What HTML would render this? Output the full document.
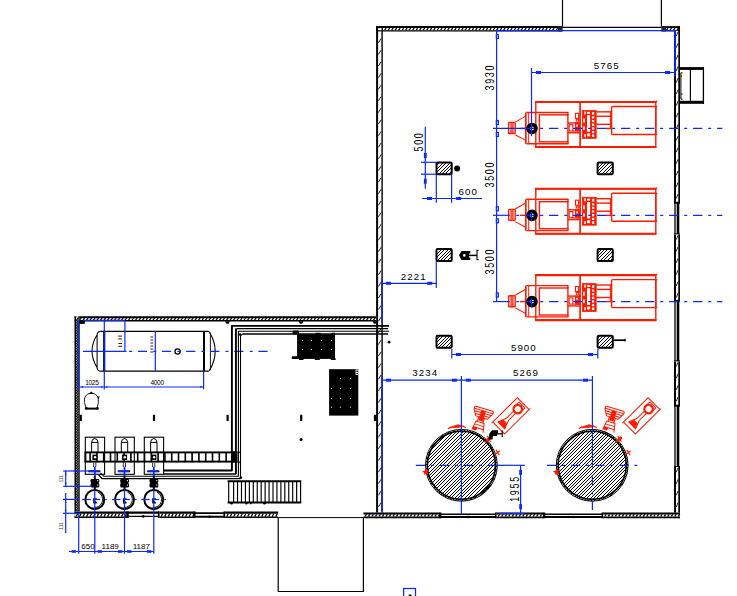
<!DOCTYPE html>
<html><head><meta charset="utf-8"><title>plan</title>
<style>html,body{margin:0;padding:0;background:#fff}svg{display:block}text{font-family:"Liberation Sans",sans-serif}</style>
</head><body>
<svg width="737" height="596" viewBox="0 0 737 596">
<rect width="737" height="596" fill="#fff"/>
<line x1="562.50" y1="0.00" x2="562.50" y2="27.00" stroke="#000" stroke-width="1.2" />
<line x1="661.40" y1="0.00" x2="661.40" y2="27.00" stroke="#000" stroke-width="1.2" />
<line x1="679.00" y1="68.50" x2="704.00" y2="68.50" stroke="#000" stroke-width="2.8" />
<line x1="679.00" y1="102.30" x2="704.00" y2="102.30" stroke="#000" stroke-width="3.0" />
<line x1="703.40" y1="67.10" x2="703.40" y2="103.80" stroke="#000" stroke-width="1.3" />
<line x1="690.40" y1="68.00" x2="690.40" y2="103.00" stroke="#000" stroke-width="1.2" />
<path d="M682.4 72.8H680.9V99.2H682.4 M680.9 76H682 M680.9 94H682.6" stroke="#000" stroke-width="1.0" fill="none"/>
<rect x="376.10" y="26.10" width="186.40" height="5.30" fill="#fff" stroke="none"/>
<line x1="376.10" y1="27.10" x2="562.50" y2="27.10" stroke="#000" stroke-width="2.0" />
<line x1="376.10" y1="30.80" x2="562.50" y2="30.80" stroke="#000" stroke-width="1.2" />
<path d="M377.60 30.20L379.20 28.10M381.10 30.20L382.70 28.10M384.60 30.20L386.20 28.10M388.10 30.20L389.70 28.10M391.60 30.20L393.20 28.10M395.10 30.20L396.70 28.10M398.60 30.20L400.20 28.10M402.10 30.20L403.70 28.10M405.60 30.20L407.20 28.10M409.10 30.20L410.70 28.10M412.60 30.20L414.20 28.10M416.10 30.20L417.70 28.10M419.60 30.20L421.20 28.10M423.10 30.20L424.70 28.10M426.60 30.20L428.20 28.10M430.10 30.20L431.70 28.10M433.60 30.20L435.20 28.10M437.10 30.20L438.70 28.10M440.60 30.20L442.20 28.10M444.10 30.20L445.70 28.10M447.60 30.20L449.20 28.10M451.10 30.20L452.70 28.10M454.60 30.20L456.20 28.10M458.10 30.20L459.70 28.10M461.60 30.20L463.20 28.10M465.10 30.20L466.70 28.10M468.60 30.20L470.20 28.10M472.10 30.20L473.70 28.10M475.60 30.20L477.20 28.10M479.10 30.20L480.70 28.10M482.60 30.20L484.20 28.10M486.10 30.20L487.70 28.10M489.60 30.20L491.20 28.10M493.10 30.20L494.70 28.10M496.60 30.20L498.20 28.10M500.10 30.20L501.70 28.10M503.60 30.20L505.20 28.10M507.10 30.20L508.70 28.10M510.60 30.20L512.20 28.10M514.10 30.20L515.70 28.10M517.60 30.20L519.20 28.10M521.10 30.20L522.70 28.10M524.60 30.20L526.20 28.10M528.10 30.20L529.70 28.10M531.60 30.20L533.20 28.10M535.10 30.20L536.70 28.10M538.60 30.20L540.20 28.10M542.10 30.20L543.70 28.10M545.60 30.20L547.20 28.10M549.10 30.20L550.70 28.10M552.60 30.20L554.20 28.10M556.10 30.20L557.70 28.10M559.60 30.20L561.20 28.10" stroke="#000" stroke-width="1.25" fill="none"/>
<line x1="562.50" y1="27.40" x2="661.40" y2="27.40" stroke="#000" stroke-width="1.3" />
<rect x="661.40" y="26.10" width="18.60" height="5.30" fill="#fff" stroke="none"/>
<line x1="661.40" y1="27.10" x2="680.00" y2="27.10" stroke="#000" stroke-width="2.0" />
<line x1="661.40" y1="30.80" x2="680.00" y2="30.80" stroke="#000" stroke-width="1.2" />
<path d="M662.90 30.20L664.50 28.10M666.40 30.20L668.00 28.10M669.90 30.20L671.50 28.10M673.40 30.20L675.00 28.10M676.90 30.20L678.50 28.10" stroke="#000" stroke-width="1.25" fill="none"/>
<rect x="558.00" y="26.10" width="4.50" height="5.30" stroke="#000" stroke-width="0" fill="#222" />
<rect x="661.40" y="26.10" width="4.60" height="5.30" stroke="#000" stroke-width="0" fill="#222" />
<rect x="376.10" y="26.10" width="6.70" height="492.20" fill="#fff" stroke="none"/>
<line x1="377.10" y1="26.10" x2="377.10" y2="518.30" stroke="#000" stroke-width="2.0" />
<line x1="382.10" y1="26.10" x2="382.10" y2="518.30" stroke="#000" stroke-width="1.4" />
<path d="M378.40 31.30L381.10 26.90M378.40 42.90L381.10 38.50M378.40 54.50L381.10 50.10M378.40 66.10L381.10 61.70M378.40 77.70L381.10 73.30M378.40 89.30L381.10 84.90M378.40 100.90L381.10 96.50M378.40 112.50L381.10 108.10M378.40 124.10L381.10 119.70M378.40 135.70L381.10 131.30M378.40 147.30L381.10 142.90M378.40 158.90L381.10 154.50M378.40 170.50L381.10 166.10M378.40 182.10L381.10 177.70M378.40 193.70L381.10 189.30M378.40 205.30L381.10 200.90M378.40 216.90L381.10 212.50M378.40 228.50L381.10 224.10M378.40 240.10L381.10 235.70M378.40 251.70L381.10 247.30M378.40 263.30L381.10 258.90M378.40 274.90L381.10 270.50M378.40 286.50L381.10 282.10M378.40 298.10L381.10 293.70M378.40 309.70L381.10 305.30M378.40 321.30L381.10 316.90M378.40 332.90L381.10 328.50M378.40 344.50L381.10 340.10M378.40 356.10L381.10 351.70M378.40 367.70L381.10 363.30M378.40 379.30L381.10 374.90M378.40 390.90L381.10 386.50M378.40 402.50L381.10 398.10M378.40 414.10L381.10 409.70M378.40 425.70L381.10 421.30M378.40 437.30L381.10 432.90M378.40 448.90L381.10 444.50M378.40 460.50L381.10 456.10M378.40 472.10L381.10 467.70M378.40 483.70L381.10 479.30M378.40 495.30L381.10 490.90M378.40 506.90L381.10 502.50" stroke="#000" stroke-width="0.85" fill="none"/>
<rect x="674.00" y="30.90" width="6.00" height="171.80" fill="#fff" stroke="none"/>
<line x1="675.00" y1="30.90" x2="675.00" y2="202.70" stroke="#000" stroke-width="2.0" />
<line x1="679.15" y1="30.90" x2="679.15" y2="202.70" stroke="#000" stroke-width="1.7" />
<path d="M676.30 36.10L678.00 31.70M676.30 47.70L678.00 43.30M676.30 59.30L678.00 54.90M676.30 70.90L678.00 66.50M676.30 82.50L678.00 78.10M676.30 94.10L678.00 89.70M676.30 105.70L678.00 101.30M676.30 117.30L678.00 112.90M676.30 128.90L678.00 124.50M676.30 140.50L678.00 136.10M676.30 152.10L678.00 147.70M676.30 163.70L678.00 159.30M676.30 175.30L678.00 170.90M676.30 186.90L678.00 182.50M676.30 198.50L678.00 194.10" stroke="#000" stroke-width="0.85" fill="none"/>
<line x1="679.05" y1="26.10" x2="679.05" y2="31.40" stroke="#000" stroke-width="1.9" />
<rect x="674.00" y="202.70" width="6.00" height="31.70" fill="#fff" stroke="none"/>
<line x1="675.00" y1="202.70" x2="675.00" y2="234.40" stroke="#000" stroke-width="1.3" />
<line x1="678.00" y1="202.70" x2="678.00" y2="234.40" stroke="#000" stroke-width="2.6" />
<line x1="674.00" y1="202.70" x2="680.00" y2="202.70" stroke="#000" stroke-width="2.0" />
<line x1="674.00" y1="234.40" x2="680.00" y2="234.40" stroke="#000" stroke-width="2.0" />
<rect x="674.00" y="234.40" width="6.00" height="66.40" fill="#fff" stroke="none"/>
<line x1="675.00" y1="234.40" x2="675.00" y2="300.80" stroke="#000" stroke-width="2.0" />
<line x1="679.15" y1="234.40" x2="679.15" y2="300.80" stroke="#000" stroke-width="1.7" />
<path d="M676.30 239.60L678.00 235.20M676.30 251.20L678.00 246.80M676.30 262.80L678.00 258.40M676.30 274.40L678.00 270.00M676.30 286.00L678.00 281.60M676.30 297.60L678.00 293.20" stroke="#000" stroke-width="0.85" fill="none"/>
<rect x="674.00" y="300.80" width="6.00" height="60.60" fill="#fff" stroke="none"/>
<line x1="675.00" y1="300.80" x2="675.00" y2="361.40" stroke="#000" stroke-width="1.3" />
<line x1="678.00" y1="300.80" x2="678.00" y2="361.40" stroke="#000" stroke-width="2.6" />
<line x1="674.00" y1="300.80" x2="680.00" y2="300.80" stroke="#000" stroke-width="2.0" />
<line x1="674.00" y1="361.40" x2="680.00" y2="361.40" stroke="#000" stroke-width="2.0" />
<rect x="674.00" y="361.40" width="6.00" height="44.30" fill="#fff" stroke="none"/>
<line x1="675.00" y1="361.40" x2="675.00" y2="405.70" stroke="#000" stroke-width="2.0" />
<line x1="679.15" y1="361.40" x2="679.15" y2="405.70" stroke="#000" stroke-width="1.7" />
<path d="M676.30 366.60L678.00 362.20M676.30 378.20L678.00 373.80M676.30 389.80L678.00 385.40M676.30 401.40L678.00 397.00" stroke="#000" stroke-width="0.85" fill="none"/>
<rect x="674.00" y="405.70" width="6.00" height="61.30" fill="#fff" stroke="none"/>
<line x1="675.00" y1="405.70" x2="675.00" y2="467.00" stroke="#000" stroke-width="1.3" />
<line x1="678.00" y1="405.70" x2="678.00" y2="467.00" stroke="#000" stroke-width="2.6" />
<line x1="674.00" y1="405.70" x2="680.00" y2="405.70" stroke="#000" stroke-width="2.0" />
<line x1="674.00" y1="467.00" x2="680.00" y2="467.00" stroke="#000" stroke-width="2.0" />
<rect x="674.00" y="467.00" width="6.00" height="51.30" fill="#fff" stroke="none"/>
<line x1="675.00" y1="467.00" x2="675.00" y2="518.30" stroke="#000" stroke-width="2.0" />
<line x1="679.15" y1="467.00" x2="679.15" y2="518.30" stroke="#000" stroke-width="1.7" />
<path d="M676.30 472.20L678.00 467.80M676.30 483.80L678.00 479.40M676.30 495.40L678.00 491.00M676.30 507.00L678.00 502.60" stroke="#000" stroke-width="0.85" fill="none"/>
<rect x="363.40" y="512.50" width="76.30" height="5.80" fill="#fff" stroke="none"/>
<line x1="363.40" y1="513.45" x2="439.70" y2="513.45" stroke="#000" stroke-width="1.9" />
<line x1="363.40" y1="517.35" x2="439.70" y2="517.35" stroke="#000" stroke-width="1.9" />
<path d="M364.90 516.40L366.50 514.40M368.40 516.40L370.00 514.40M371.90 516.40L373.50 514.40M375.40 516.40L377.00 514.40M378.90 516.40L380.50 514.40M382.40 516.40L384.00 514.40M385.90 516.40L387.50 514.40M389.40 516.40L391.00 514.40M392.90 516.40L394.50 514.40M396.40 516.40L398.00 514.40M399.90 516.40L401.50 514.40M403.40 516.40L405.00 514.40M406.90 516.40L408.50 514.40M410.40 516.40L412.00 514.40M413.90 516.40L415.50 514.40M417.40 516.40L419.00 514.40M420.90 516.40L422.50 514.40M424.40 516.40L426.00 514.40M427.90 516.40L429.50 514.40M431.40 516.40L433.00 514.40M434.90 516.40L436.50 514.40M438.40 516.40L440.00 514.40" stroke="#000" stroke-width="1.25" fill="none"/>
<rect x="439.70" y="512.50" width="56.90" height="5.80" fill="#fff" stroke="none"/>
<line x1="439.70" y1="514.20" x2="496.60" y2="514.20" stroke="#000" stroke-width="1.6" />
<line x1="439.70" y1="517.05" x2="496.60" y2="517.05" stroke="#000" stroke-width="2.0" />
<line x1="440.20" y1="512.50" x2="440.20" y2="518.30" stroke="#000" stroke-width="2.4" />
<line x1="496.10" y1="512.50" x2="496.10" y2="518.30" stroke="#000" stroke-width="2.4" />
<circle cx="468.15" cy="517.05" r="1.30" stroke="#000" stroke-width="0" fill="#000" />
<rect x="496.60" y="512.50" width="47.00" height="5.80" fill="#fff" stroke="none"/>
<line x1="496.60" y1="513.45" x2="543.60" y2="513.45" stroke="#000" stroke-width="1.9" />
<line x1="496.60" y1="517.35" x2="543.60" y2="517.35" stroke="#000" stroke-width="1.9" />
<path d="M498.10 516.40L499.70 514.40M501.60 516.40L503.20 514.40M505.10 516.40L506.70 514.40M508.60 516.40L510.20 514.40M512.10 516.40L513.70 514.40M515.60 516.40L517.20 514.40M519.10 516.40L520.70 514.40M522.60 516.40L524.20 514.40M526.10 516.40L527.70 514.40M529.60 516.40L531.20 514.40M533.10 516.40L534.70 514.40M536.60 516.40L538.20 514.40M540.10 516.40L541.70 514.40" stroke="#000" stroke-width="1.25" fill="none"/>
<rect x="543.60" y="512.50" width="59.60" height="5.80" fill="#fff" stroke="none"/>
<line x1="543.60" y1="514.20" x2="603.20" y2="514.20" stroke="#000" stroke-width="1.6" />
<line x1="543.60" y1="517.05" x2="603.20" y2="517.05" stroke="#000" stroke-width="2.0" />
<line x1="544.10" y1="512.50" x2="544.10" y2="518.30" stroke="#000" stroke-width="2.4" />
<line x1="602.70" y1="512.50" x2="602.70" y2="518.30" stroke="#000" stroke-width="2.4" />
<circle cx="573.40" cy="517.05" r="1.30" stroke="#000" stroke-width="0" fill="#000" />
<rect x="603.20" y="512.50" width="76.80" height="5.80" fill="#fff" stroke="none"/>
<line x1="603.20" y1="513.45" x2="680.00" y2="513.45" stroke="#000" stroke-width="1.9" />
<line x1="603.20" y1="517.35" x2="680.00" y2="517.35" stroke="#000" stroke-width="1.9" />
<path d="M604.70 516.40L606.30 514.40M608.20 516.40L609.80 514.40M611.70 516.40L613.30 514.40M615.20 516.40L616.80 514.40M618.70 516.40L620.30 514.40M622.20 516.40L623.80 514.40M625.70 516.40L627.30 514.40M629.20 516.40L630.80 514.40M632.70 516.40L634.30 514.40M636.20 516.40L637.80 514.40M639.70 516.40L641.30 514.40M643.20 516.40L644.80 514.40M646.70 516.40L648.30 514.40M650.20 516.40L651.80 514.40M653.70 516.40L655.30 514.40M657.20 516.40L658.80 514.40M660.70 516.40L662.30 514.40M664.20 516.40L665.80 514.40M667.70 516.40L669.30 514.40M671.20 516.40L672.80 514.40M674.70 516.40L676.30 514.40M678.20 516.40L679.80 514.40" stroke="#000" stroke-width="1.25" fill="none"/>
<rect x="376.10" y="26.10" width="6.70" height="5.30" stroke="#000" stroke-width="0" fill="#000" />
<rect x="378.1" y="28.1" width="3.50" height="2.10" fill="#fff"/>
<rect x="74.50" y="316.20" width="301.60" height="5.20" fill="#fff" stroke="none"/>
<line x1="74.50" y1="317.20" x2="376.10" y2="317.20" stroke="#000" stroke-width="2.0" />
<line x1="74.50" y1="320.75" x2="376.10" y2="320.75" stroke="#000" stroke-width="1.3" />
<path d="M76.00 320.10L77.60 318.20M79.50 320.10L81.10 318.20M83.00 320.10L84.60 318.20M86.50 320.10L88.10 318.20M90.00 320.10L91.60 318.20M93.50 320.10L95.10 318.20M97.00 320.10L98.60 318.20M100.50 320.10L102.10 318.20M104.00 320.10L105.60 318.20M107.50 320.10L109.10 318.20M111.00 320.10L112.60 318.20M114.50 320.10L116.10 318.20M118.00 320.10L119.60 318.20M121.50 320.10L123.10 318.20M125.00 320.10L126.60 318.20M128.50 320.10L130.10 318.20M132.00 320.10L133.60 318.20M135.50 320.10L137.10 318.20M139.00 320.10L140.60 318.20M142.50 320.10L144.10 318.20M146.00 320.10L147.60 318.20M149.50 320.10L151.10 318.20M153.00 320.10L154.60 318.20M156.50 320.10L158.10 318.20M160.00 320.10L161.60 318.20M163.50 320.10L165.10 318.20M167.00 320.10L168.60 318.20M170.50 320.10L172.10 318.20M174.00 320.10L175.60 318.20M177.50 320.10L179.10 318.20M181.00 320.10L182.60 318.20M184.50 320.10L186.10 318.20M188.00 320.10L189.60 318.20M191.50 320.10L193.10 318.20M195.00 320.10L196.60 318.20M198.50 320.10L200.10 318.20M202.00 320.10L203.60 318.20M205.50 320.10L207.10 318.20M209.00 320.10L210.60 318.20M212.50 320.10L214.10 318.20M216.00 320.10L217.60 318.20M219.50 320.10L221.10 318.20M223.00 320.10L224.60 318.20M226.50 320.10L228.10 318.20M230.00 320.10L231.60 318.20M233.50 320.10L235.10 318.20M237.00 320.10L238.60 318.20M240.50 320.10L242.10 318.20M244.00 320.10L245.60 318.20M247.50 320.10L249.10 318.20M251.00 320.10L252.60 318.20M254.50 320.10L256.10 318.20M258.00 320.10L259.60 318.20M261.50 320.10L263.10 318.20M265.00 320.10L266.60 318.20M268.50 320.10L270.10 318.20M272.00 320.10L273.60 318.20M275.50 320.10L277.10 318.20M279.00 320.10L280.60 318.20M282.50 320.10L284.10 318.20M286.00 320.10L287.60 318.20M289.50 320.10L291.10 318.20M293.00 320.10L294.60 318.20M296.50 320.10L298.10 318.20M300.00 320.10L301.60 318.20M303.50 320.10L305.10 318.20M307.00 320.10L308.60 318.20M310.50 320.10L312.10 318.20M314.00 320.10L315.60 318.20M317.50 320.10L319.10 318.20M321.00 320.10L322.60 318.20M324.50 320.10L326.10 318.20M328.00 320.10L329.60 318.20M331.50 320.10L333.10 318.20M335.00 320.10L336.60 318.20M338.50 320.10L340.10 318.20M342.00 320.10L343.60 318.20M345.50 320.10L347.10 318.20M349.00 320.10L350.60 318.20M352.50 320.10L354.10 318.20M356.00 320.10L357.60 318.20M359.50 320.10L361.10 318.20M363.00 320.10L364.60 318.20M366.50 320.10L368.10 318.20M370.00 320.10L371.60 318.20M373.50 320.10L375.10 318.20" stroke="#000" stroke-width="1.25" fill="none"/>
<rect x="74.50" y="316.20" width="5.20" height="201.80" fill="#fff" stroke="none"/>
<line x1="75.35" y1="316.20" x2="75.35" y2="518.00" stroke="#000" stroke-width="1.7" />
<line x1="79.00" y1="316.20" x2="79.00" y2="518.00" stroke="#000" stroke-width="1.4" />
<path d="M76.20 320.80L78.30 317.60M76.20 323.40L78.30 320.20M76.20 326.00L78.30 322.80M76.20 328.60L78.30 325.40M76.20 331.20L78.30 328.00M76.20 333.80L78.30 330.60M76.20 336.40L78.30 333.20M76.20 339.00L78.30 335.80M76.20 341.60L78.30 338.40M76.20 344.20L78.30 341.00M76.20 346.80L78.30 343.60M76.20 349.40L78.30 346.20M76.20 352.00L78.30 348.80M76.20 354.60L78.30 351.40M76.20 357.20L78.30 354.00M76.20 359.80L78.30 356.60M76.20 362.40L78.30 359.20M76.20 365.00L78.30 361.80M76.20 367.60L78.30 364.40M76.20 370.20L78.30 367.00M76.20 372.80L78.30 369.60M76.20 375.40L78.30 372.20M76.20 378.00L78.30 374.80M76.20 380.60L78.30 377.40M76.20 383.20L78.30 380.00M76.20 385.80L78.30 382.60M76.20 388.40L78.30 385.20M76.20 391.00L78.30 387.80M76.20 393.60L78.30 390.40M76.20 396.20L78.30 393.00M76.20 398.80L78.30 395.60M76.20 401.40L78.30 398.20M76.20 404.00L78.30 400.80M76.20 406.60L78.30 403.40M76.20 409.20L78.30 406.00M76.20 411.80L78.30 408.60M76.20 414.40L78.30 411.20M76.20 417.00L78.30 413.80M76.20 419.60L78.30 416.40M76.20 422.20L78.30 419.00M76.20 424.80L78.30 421.60M76.20 427.40L78.30 424.20M76.20 430.00L78.30 426.80M76.20 432.60L78.30 429.40M76.20 435.20L78.30 432.00M76.20 437.80L78.30 434.60M76.20 440.40L78.30 437.20M76.20 443.00L78.30 439.80M76.20 445.60L78.30 442.40M76.20 448.20L78.30 445.00M76.20 450.80L78.30 447.60M76.20 453.40L78.30 450.20M76.20 456.00L78.30 452.80M76.20 458.60L78.30 455.40M76.20 461.20L78.30 458.00M76.20 463.80L78.30 460.60M76.20 466.40L78.30 463.20M76.20 469.00L78.30 465.80M76.20 471.60L78.30 468.40M76.20 474.20L78.30 471.00M76.20 476.80L78.30 473.60M76.20 479.40L78.30 476.20M76.20 482.00L78.30 478.80M76.20 484.60L78.30 481.40M76.20 487.20L78.30 484.00M76.20 489.80L78.30 486.60M76.20 492.40L78.30 489.20M76.20 495.00L78.30 491.80M76.20 497.60L78.30 494.40M76.20 500.20L78.30 497.00M76.20 502.80L78.30 499.60M76.20 505.40L78.30 502.20M76.20 508.00L78.30 504.80M76.20 510.60L78.30 507.40M76.20 513.20L78.30 510.00M76.20 515.80L78.30 512.60" stroke="#000" stroke-width="1.1" fill="none"/>
<rect x="74.50" y="511.40" width="52.50" height="6.60" fill="#fff" stroke="none"/>
<line x1="74.50" y1="512.60" x2="127.00" y2="512.60" stroke="#000" stroke-width="2.4" />
<line x1="74.50" y1="517.30" x2="127.00" y2="517.30" stroke="#000" stroke-width="1.4" />
<path d="M76.00 516.60L77.60 513.80M79.50 516.60L81.10 513.80M83.00 516.60L84.60 513.80M86.50 516.60L88.10 513.80M90.00 516.60L91.60 513.80M93.50 516.60L95.10 513.80M97.00 516.60L98.60 513.80M100.50 516.60L102.10 513.80M104.00 516.60L105.60 513.80M107.50 516.60L109.10 513.80M111.00 516.60L112.60 513.80M114.50 516.60L116.10 513.80M118.00 516.60L119.60 513.80M121.50 516.60L123.10 513.80M125.00 516.60L126.60 513.80" stroke="#000" stroke-width="1.25" fill="none"/>
<rect x="127.00" y="511.40" width="32.60" height="6.60" fill="#fff" stroke="none"/>
<line x1="127.00" y1="512.60" x2="159.60" y2="512.60" stroke="#000" stroke-width="2.4" />
<line x1="127.00" y1="516.40" x2="159.60" y2="516.40" stroke="#000" stroke-width="1.2" />
<line x1="127.50" y1="511.40" x2="127.50" y2="518.00" stroke="#000" stroke-width="2.4" />
<line x1="159.10" y1="511.40" x2="159.10" y2="518.00" stroke="#000" stroke-width="2.4" />
<circle cx="143.30" cy="516.40" r="1.30" stroke="#000" stroke-width="0" fill="#000" />
<rect x="159.60" y="511.40" width="34.30" height="6.60" fill="#fff" stroke="none"/>
<line x1="159.60" y1="512.60" x2="193.90" y2="512.60" stroke="#000" stroke-width="2.4" />
<line x1="159.60" y1="517.30" x2="193.90" y2="517.30" stroke="#000" stroke-width="1.4" />
<path d="M161.10 516.60L162.70 513.80M164.60 516.60L166.20 513.80M168.10 516.60L169.70 513.80M171.60 516.60L173.20 513.80M175.10 516.60L176.70 513.80M178.60 516.60L180.20 513.80M182.10 516.60L183.70 513.80M185.60 516.60L187.20 513.80M189.10 516.60L190.70 513.80M192.60 516.60L194.20 513.80" stroke="#000" stroke-width="1.25" fill="none"/>
<rect x="193.90" y="511.40" width="31.30" height="6.60" fill="#fff" stroke="none"/>
<line x1="193.90" y1="513.10" x2="225.20" y2="513.10" stroke="#000" stroke-width="1.6" />
<line x1="193.90" y1="516.75" x2="225.20" y2="516.75" stroke="#000" stroke-width="2.0" />
<line x1="194.40" y1="511.40" x2="194.40" y2="518.00" stroke="#000" stroke-width="2.4" />
<line x1="224.70" y1="511.40" x2="224.70" y2="518.00" stroke="#000" stroke-width="2.4" />
<circle cx="209.55" cy="516.75" r="1.30" stroke="#000" stroke-width="0" fill="#000" />
<rect x="225.20" y="511.40" width="53.00" height="6.60" fill="#fff" stroke="none"/>
<line x1="225.20" y1="512.60" x2="278.20" y2="512.60" stroke="#000" stroke-width="2.4" />
<line x1="225.20" y1="517.30" x2="278.20" y2="517.30" stroke="#000" stroke-width="1.4" />
<path d="M226.70 516.60L228.30 513.80M230.20 516.60L231.80 513.80M233.70 516.60L235.30 513.80M237.20 516.60L238.80 513.80M240.70 516.60L242.30 513.80M244.20 516.60L245.80 513.80M247.70 516.60L249.30 513.80M251.20 516.60L252.80 513.80M254.70 516.60L256.30 513.80M258.20 516.60L259.80 513.80M261.70 516.60L263.30 513.80M265.20 516.60L266.80 513.80M268.70 516.60L270.30 513.80M272.20 516.60L273.80 513.80M275.70 516.60L277.30 513.80" stroke="#000" stroke-width="1.25" fill="none"/>
<path d="M278.2 517.5V591.5H363.4V517.5" stroke="#000" stroke-width="1.2" fill="none"/>
<line x1="278.20" y1="517.60" x2="363.40" y2="517.60" stroke="#000" stroke-width="1.0" />
<defs><pattern id="ph" width="17" height="17" patternUnits="userSpaceOnUse"><rect width="17" height="17" fill="#fff"/><path d="M0 0h1v1h-1zM1 16h1v1h-1zM2 15h1v1h-1zM3 14h1v1h-1zM4 13h1v1h-1zM5 12h1v1h-1zM6 11h1v1h-1zM7 10h1v1h-1zM8 9h1v1h-1zM9 8h1v1h-1zM10 7h1v1h-1zM11 6h1v1h-1zM12 5h1v1h-1zM13 4h1v1h-1zM14 3h1v1h-1zM15 2h1v1h-1zM16 1h1v1h-1zM0 3h1v1h-1zM1 2h1v1h-1zM2 1h1v1h-1zM3 0h1v1h-1zM4 16h1v1h-1zM5 15h1v1h-1zM6 14h1v1h-1zM7 13h1v1h-1zM8 12h1v1h-1zM9 11h1v1h-1zM10 10h1v1h-1zM11 9h1v1h-1zM12 8h1v1h-1zM13 7h1v1h-1zM14 6h1v1h-1zM15 5h1v1h-1zM16 4h1v1h-1zM0 6h1v1h-1zM1 5h1v1h-1zM2 4h1v1h-1zM3 3h1v1h-1zM4 2h1v1h-1zM5 1h1v1h-1zM6 0h1v1h-1zM7 16h1v1h-1zM8 15h1v1h-1zM9 14h1v1h-1zM10 13h1v1h-1zM11 12h1v1h-1zM12 11h1v1h-1zM13 10h1v1h-1zM14 9h1v1h-1zM15 8h1v1h-1zM16 7h1v1h-1zM0 10h1v1h-1zM1 9h1v1h-1zM2 8h1v1h-1zM3 7h1v1h-1zM4 6h1v1h-1zM5 5h1v1h-1zM6 4h1v1h-1zM7 3h1v1h-1zM8 2h1v1h-1zM9 1h1v1h-1zM10 0h1v1h-1zM11 16h1v1h-1zM12 15h1v1h-1zM13 14h1v1h-1zM14 13h1v1h-1zM15 12h1v1h-1zM16 11h1v1h-1zM0 13h1v1h-1zM1 12h1v1h-1zM2 11h1v1h-1zM3 10h1v1h-1zM4 9h1v1h-1zM5 8h1v1h-1zM6 7h1v1h-1zM7 6h1v1h-1zM8 5h1v1h-1zM9 4h1v1h-1zM10 3h1v1h-1zM11 2h1v1h-1zM12 1h1v1h-1zM13 0h1v1h-1zM14 16h1v1h-1zM15 15h1v1h-1zM16 14h1v1h-1z" fill="#000" shape-rendering="crispEdges"/></pattern></defs>
<rect x="436.50" y="162.40" width="15.20" height="11.80" rx="1.2" fill="url(#ph)" stroke="#000" stroke-width="2"/>
<rect x="436.50" y="249.10" width="15.20" height="12.00" rx="1.2" fill="url(#ph)" stroke="#000" stroke-width="2"/>
<rect x="436.50" y="335.80" width="15.20" height="12.00" rx="1.2" fill="url(#ph)" stroke="#000" stroke-width="2"/>
<rect x="597.60" y="162.40" width="15.20" height="11.80" rx="1.2" fill="url(#ph)" stroke="#000" stroke-width="2"/>
<rect x="597.60" y="249.10" width="15.20" height="12.00" rx="1.2" fill="url(#ph)" stroke="#000" stroke-width="2"/>
<rect x="597.60" y="335.80" width="15.20" height="12.00" rx="1.2" fill="url(#ph)" stroke="#000" stroke-width="2"/>
<circle cx="457.10" cy="168.60" r="3.00" stroke="#000" stroke-width="0" fill="#000" />
<path d="M459 255.3 L461.5 251 H470.3 V253.5 H469 V257.5 H470.3 V260 H461.5 Z" fill="#000"/>
<circle cx="464.30" cy="255.40" r="1.30" stroke="#000" stroke-width="0" fill="#fff" />
<line x1="469.00" y1="255.40" x2="477.00" y2="255.40" stroke="#000" stroke-width="1.5" />
<path d="M478.6 250.4H477V259.6H478.6" stroke="#000" stroke-width="1.1" fill="none"/>
<line x1="613.60" y1="340.20" x2="625.40" y2="340.20" stroke="#000" stroke-width="1.7" />
<line x1="625.00" y1="338.80" x2="625.00" y2="341.60" stroke="#000" stroke-width="1.2" />
<circle cx="389.10" cy="342.20" r="1.40" stroke="#000" stroke-width="0" fill="#000" />
<defs><g id="mach" fill="none" stroke="#ff1a00" stroke-width="1.4">
<rect x="535.80" y="102.00" width="120.00" height="45.00"/>
<line x1="535.10" y1="102.00" x2="656.40" y2="102.00" stroke-width="2.1"/>
<line x1="535.10" y1="147.00" x2="656.40" y2="147.00" stroke-width="2.1"/>
<line x1="580.10" y1="101.60" x2="580.10" y2="147.00" stroke-width="1.7"/>
<line x1="655.80" y1="101.30" x2="657.20" y2="101.30"/>
<line x1="655.80" y1="106.60" x2="657.20" y2="106.60"/>
<line x1="655.80" y1="134.40" x2="657.20" y2="134.40"/>
<rect x="611.6" y="106.5" width="44.2" height="28" rx="1"/>
<rect x="508.6" y="122.6" width="6.6" height="11" rx="0.8"/>
<rect x="510.90" y="122.60" width="2.20" height="11.00" stroke-width="0.8" fill="#ff6a50"/>
<path d="M515.2 122.2 L525.6 116.2 M515.2 134.8 L525.6 140.4" stroke-width="1.05"/>
<line x1="525.80" y1="112.50" x2="525.80" y2="143.80" stroke-width="1.7"/>
<line x1="528.70" y1="112.50" x2="528.70" y2="143.80" stroke-width="1.0"/>
<line x1="520.00" y1="128.50" x2="527.00" y2="128.50"/>
<line x1="526.30" y1="112.50" x2="568.50" y2="112.50"/>
<line x1="526.30" y1="143.80" x2="568.50" y2="143.80"/>
<rect x="539.40" y="114.90" width="28.50" height="27.00"/>
<line x1="567.90" y1="112.50" x2="567.90" y2="115.50"/>
<line x1="567.90" y1="141.50" x2="567.90" y2="144.00"/>
<line x1="567.90" y1="123.00" x2="580.00" y2="123.00"/>
<line x1="567.90" y1="132.80" x2="580.00" y2="132.80"/>
<line x1="572.80" y1="131.10" x2="580.00" y2="131.10" stroke-width="1.0"/>
<rect x="569.20" y="124.80" width="3.60" height="6.20" stroke-width="1.1"/>
<rect x="575.50" y="113.40" width="3.10" height="5.00" stroke-width="1.1"/>
<rect x="576.20" y="119.40" width="2.40" height="1.80" stroke-width="1.0"/>
<rect x="575.50" y="123.00" width="3.90" height="8.00" stroke-width="1.0" fill="#ff1a00"/>
<rect x="576.3" y="124.6" width="1.6" height="2" fill="#fff" stroke="none"/>
<rect x="582.40" y="110.50" width="13.80" height="27.90" stroke-width="0.8" fill="#ff1a00"/>
<rect x="587" y="115.2" width="3.10" height="16.60" fill="#fff" stroke="none"/>
<rect x="587" y="111.9" width="3.10" height="1.90" fill="#fff" stroke="none"/>
<rect x="587" y="133.5" width="3.10" height="2.90" fill="#fff" stroke="none"/>
<rect x="584.3" y="111.5" width="1.50" height="3.00" fill="#fff" stroke="none"/>
<rect x="583.2" y="118.6" width="1.60" height="4.00" fill="#fff" stroke="none"/>
<rect x="583.2" y="126.4" width="1.60" height="3.60" fill="#fff" stroke="none"/>
<rect x="584.3" y="134.2" width="1.50" height="3.00" fill="#fff" stroke="none"/>
<rect x="592.1" y="112" width="2.1" height="2.80" fill="#fff" stroke="none"/>
<rect x="592.1" y="116.4" width="2.1" height="2.20" fill="#fff" stroke="none"/>
<rect x="592.1" y="120" width="2.1" height="2.20" fill="#fff" stroke="none"/>
<rect x="592.1" y="123.6" width="2.1" height="2.20" fill="#fff" stroke="none"/>
<rect x="592.1" y="127.2" width="2.1" height="2.40" fill="#fff" stroke="none"/>
<rect x="592.1" y="131" width="2.1" height="2.20" fill="#fff" stroke="none"/>
<rect x="592.1" y="134.4" width="2.1" height="2.60" fill="#fff" stroke="none"/>
<line x1="596.20" y1="111.90" x2="611.60" y2="111.90"/>
<line x1="596.20" y1="116.30" x2="611.60" y2="116.30"/>
<line x1="596.20" y1="124.40" x2="611.60" y2="124.40"/>
<line x1="606.00" y1="128.50" x2="611.60" y2="128.50"/>
<line x1="610.40" y1="111.90" x2="610.40" y2="128.50" stroke-width="1.0"/>
</g></defs>
<use href="#mach" transform="translate(0,-0.05)"/>
<use href="#mach" transform="translate(0,86.80)"/>
<use href="#mach" transform="translate(0,173.10)"/>
<circle cx="461.40" cy="465.30" r="35.90" stroke="#000" stroke-width="1.0" fill="url(#ph)" />
<circle cx="461.40" cy="465.30" r="34.10" stroke="#000" stroke-width="1.7" fill="none" />
<g transform="translate(461.40,465.30)" stroke="#ff1a00" fill="none" stroke-width="1.1">
<g transform="translate(16.1,-34.3) rotate(16.8)">
<path d="M-5.8 0L-4.3 -9H4.3L5.8 0 M-5.3 -3H5.3 M-4.8 -6H4.8 M-3 -9V-14H3V-9 M-6 -14H6 M-7.5 -16.3H7.5 M-9 -18.6H9 M-10 -20.9H10 M-9.6 -23.2H9.6 M-10 -20.9L-9.6 -23.2 M10 -20.9L9.6 -23.2 M-6 -14L-10 -20.9 M6 -14L10 -20.9" stroke-width="1.0"/>
<rect x="-2.4" y="-21" width="4.8" height="10.5" fill="#ff1a00" stroke="none"/>
<path d="M-5.8 0L-5.2 -3.2H-1L-1.4 0Z" fill="#ff1a00" stroke="none"/>
</g>
<g transform="translate(49.55,-49.45) rotate(-44.8)">
<rect x="-17.3" y="-8.4" width="34.6" height="16.8" stroke-width="1.0"/>
<path d="M-17.3 -8.4l-1.6 0 M17.3 8.4l1.6 0" stroke-width="1.0"/>
<path d="M-13.5 -4.8V4.8L-5 1.5H5V-1.5H-5Z" stroke-width="1.0"/>
<path d="M-13.8 -4.8V4.8L-8 2.4V-2.4Z" fill="#ff1a00" stroke="none"/>
<circle cx="9.6" cy="0" r="4.2" stroke-width="2.3"/>
<path d="M10.5 -4.2H15.5V4.2H10.5" stroke-width="1.0"/>
</g>
<path d="M-12 -37.6 L-6 -39.8 L-3 -40.6 L1.5 -39 L-3 -37.9 Z" fill="#ff1a00" stroke="#ff1a00" stroke-width="0.8"/>
<path d="M-10 -38.5 L-13.5 -36.5 M1 -39.5 L4.5 -37.5" stroke-width="1.1"/>
<path d="M24.2 -25.6 l4 -3.5 l2 2.4 l-4 3.5z" fill="#ff1a00" stroke="none"/>
<path d="M23.2 -23.1 L29.7 -28.1 M25.7 -29.6 L29.2 -23.6" stroke-width="1.1"/>
<path d="M33 -10.5 L38.5 -14.5 M34.5 -15.5 L38 -10" stroke-width="1.2"/>
<path d="M-38 6 L-34 4.5 L-33.5 8 L-37 9.5Z" fill="#ff1a00" stroke="none"/>
<path d="M-39 6.5 L-33 5 M-36 3.5 L-35 10" stroke-width="1.0"/>
</g>
<circle cx="592.20" cy="465.30" r="35.90" stroke="#000" stroke-width="1.0" fill="url(#ph)" />
<circle cx="592.20" cy="465.30" r="34.10" stroke="#000" stroke-width="1.7" fill="none" />
<g transform="translate(592.20,465.30)" stroke="#ff1a00" fill="none" stroke-width="1.1">
<g transform="translate(16.1,-34.3) rotate(16.8)">
<path d="M-5.8 0L-4.3 -9H4.3L5.8 0 M-5.3 -3H5.3 M-4.8 -6H4.8 M-3 -9V-14H3V-9 M-6 -14H6 M-7.5 -16.3H7.5 M-9 -18.6H9 M-10 -20.9H10 M-9.6 -23.2H9.6 M-10 -20.9L-9.6 -23.2 M10 -20.9L9.6 -23.2 M-6 -14L-10 -20.9 M6 -14L10 -20.9" stroke-width="1.0"/>
<rect x="-2.4" y="-21" width="4.8" height="10.5" fill="#ff1a00" stroke="none"/>
<path d="M-5.8 0L-5.2 -3.2H-1L-1.4 0Z" fill="#ff1a00" stroke="none"/>
</g>
<g transform="translate(49.55,-49.45) rotate(-44.8)">
<rect x="-17.3" y="-8.4" width="34.6" height="16.8" stroke-width="1.0"/>
<path d="M-17.3 -8.4l-1.6 0 M17.3 8.4l1.6 0" stroke-width="1.0"/>
<path d="M-13.5 -4.8V4.8L-5 1.5H5V-1.5H-5Z" stroke-width="1.0"/>
<path d="M-13.8 -4.8V4.8L-8 2.4V-2.4Z" fill="#ff1a00" stroke="none"/>
<circle cx="9.6" cy="0" r="4.2" stroke-width="2.3"/>
<path d="M10.5 -4.2H15.5V4.2H10.5" stroke-width="1.0"/>
</g>
<path d="M-12 -37.6 L-6 -39.8 L-3 -40.6 L1.5 -39 L-3 -37.9 Z" fill="#ff1a00" stroke="#ff1a00" stroke-width="0.8"/>
<path d="M-10 -38.5 L-13.5 -36.5 M1 -39.5 L4.5 -37.5" stroke-width="1.1"/>
<path d="M24.2 -25.6 l4 -3.5 l2 2.4 l-4 3.5z" fill="#ff1a00" stroke="none"/>
<path d="M23.2 -23.1 L29.7 -28.1 M25.7 -29.6 L29.2 -23.6" stroke-width="1.1"/>
<path d="M33 -10.5 L38.5 -14.5 M34.5 -15.5 L38 -10" stroke-width="1.2"/>
<path d="M-38 6 L-34 4.5 L-33.5 8 L-37 9.5Z" fill="#ff1a00" stroke="none"/>
<path d="M-39 6.5 L-33 5 M-36 3.5 L-35 10" stroke-width="1.0"/>
</g>
<path d="M488.4 439.6 L489.4 433.4 L492 430.2 H498 V433 H497 V436 H493 L492.4 439.6 Z" fill="#000"/>
<line x1="496.50" y1="433.80" x2="502.20" y2="433.80" stroke="#000" stroke-width="1.3" />
<path d="M503.2 431H502.2V436.8H503.2" stroke="#000" stroke-width="1.1" fill="none"/>
<circle cx="532.00" cy="128.45" r="3.85" fill="none" stroke="#000" stroke-width="3.9"/>
<circle cx="532.00" cy="215.30" r="3.85" fill="none" stroke="#000" stroke-width="3.9"/>
<circle cx="532.00" cy="301.60" r="3.85" fill="none" stroke="#000" stroke-width="3.9"/>
<line x1="496.50" y1="30.70" x2="675.00" y2="30.70" stroke="#0a28ff" stroke-width="1.2" />
<line x1="675.00" y1="30.70" x2="675.00" y2="76.60" stroke="#0a28ff" stroke-width="1.7" />
<line x1="496.60" y1="30.70" x2="496.60" y2="301.50" stroke="#0a28ff" stroke-width="1.2" />
<rect x="496.3" y="34.50" width="2.1" height="4.0" fill="#b9c4ff" stroke="#0a28ff" stroke-width="1.15"/>
<rect x="496.3" y="120.50" width="2.1" height="4.0" fill="#b9c4ff" stroke="#0a28ff" stroke-width="1.15"/>
<rect x="496.3" y="132.50" width="2.1" height="4.0" fill="#b9c4ff" stroke="#0a28ff" stroke-width="1.15"/>
<rect x="496.3" y="206.80" width="2.1" height="4.0" fill="#b9c4ff" stroke="#0a28ff" stroke-width="1.15"/>
<rect x="496.3" y="218.80" width="2.1" height="4.0" fill="#b9c4ff" stroke="#0a28ff" stroke-width="1.15"/>
<rect x="496.3" y="293.00" width="2.1" height="4.0" fill="#b9c4ff" stroke="#0a28ff" stroke-width="1.15"/>
<line x1="531.50" y1="68.00" x2="531.50" y2="136.00" stroke="#0a28ff" stroke-width="1.2" />
<line x1="531.50" y1="72.50" x2="674.60" y2="72.50" stroke="#0a28ff" stroke-width="1.2" />
<rect x="536.00" y="71.00" width="5" height="3" fill="#0a28ff"/>
<rect x="665.10" y="71.00" width="5" height="3" fill="#0a28ff"/>
<g transform="translate(606.10,69.00)" fill="#000"><text x="-12.41" y="0" font-size="9.7" letter-spacing="1.1">5765</text></g>
<line x1="493.00" y1="128.45" x2="534.30" y2="128.45" stroke="#0a28ff" stroke-width="1.2" />
<line x1="540.20" y1="128.45" x2="722.30" y2="128.45" stroke="#0a28ff" stroke-width="1.2" stroke-dasharray="2.9 6 9.2 5.9"/>
<line x1="493.00" y1="215.30" x2="509.80" y2="215.30" stroke="#0a28ff" stroke-width="1.2" />
<line x1="516.30" y1="215.30" x2="722.30" y2="215.30" stroke="#0a28ff" stroke-width="1.2" stroke-dasharray="2.9 5.9 9.2 6"/>
<line x1="531.50" y1="212.10" x2="531.50" y2="221.30" stroke="#0a28ff" stroke-width="1.2" />
<line x1="493.00" y1="301.60" x2="509.80" y2="301.60" stroke="#0a28ff" stroke-width="1.2" />
<line x1="516.30" y1="301.60" x2="722.30" y2="301.60" stroke="#0a28ff" stroke-width="1.2" stroke-dasharray="2.9 5.9 9.2 6"/>
<line x1="531.50" y1="298.40" x2="531.50" y2="307.60" stroke="#0a28ff" stroke-width="1.2" />
<g transform="translate(494.00,78.00) rotate(-90)" fill="#000"><text transform="scale(1,1.39)" x="-12.49" y="0" font-size="9" letter-spacing="1.65">3930</text></g>
<g transform="translate(494.00,175.00) rotate(-90)" fill="#000"><text transform="scale(1,1.39)" x="-12.49" y="0" font-size="9" letter-spacing="1.65">3500</text></g>
<g transform="translate(494.00,262.00) rotate(-90)" fill="#000"><text transform="scale(1,1.39)" x="-12.49" y="0" font-size="9" letter-spacing="1.65">3500</text></g>
<line x1="425.30" y1="126.80" x2="425.30" y2="188.70" stroke="#0a28ff" stroke-width="1.2" />
<line x1="421.00" y1="162.30" x2="436.00" y2="162.30" stroke="#0a28ff" stroke-width="1.2" />
<line x1="421.00" y1="174.20" x2="436.00" y2="174.20" stroke="#0a28ff" stroke-width="1.2" />
<rect x="423.90" y="153.00" width="2.8" height="5" fill="#0a28ff"/>
<rect x="423.90" y="178.70" width="2.8" height="5" fill="#0a28ff"/>
<g transform="translate(422.80,142.30) rotate(-90)" fill="#000"><text transform="scale(1,1.39)" x="-9.16" y="0" font-size="9" letter-spacing="1.65">500</text></g>
<line x1="436.30" y1="174.00" x2="436.30" y2="202.80" stroke="#0a28ff" stroke-width="1.2" />
<line x1="451.60" y1="174.00" x2="451.60" y2="202.80" stroke="#0a28ff" stroke-width="1.2" />
<line x1="422.20" y1="198.50" x2="482.00" y2="198.50" stroke="#0a28ff" stroke-width="1.2" />
<rect x="427.00" y="197.00" width="5" height="3" fill="#0a28ff"/>
<rect x="456.10" y="197.00" width="5" height="3" fill="#0a28ff"/>
<g transform="translate(467.70,194.60)" fill="#000"><text x="-9.16" y="0" font-size="9.7" letter-spacing="1.1">600</text></g>
<line x1="381.80" y1="278.80" x2="381.80" y2="322.80" stroke="#0a28ff" stroke-width="1.2" />
<line x1="381.80" y1="375.00" x2="381.80" y2="513.00" stroke="#0a28ff" stroke-width="1.2" />
<line x1="381.80" y1="283.30" x2="436.30" y2="283.30" stroke="#0a28ff" stroke-width="1.2" />
<line x1="436.30" y1="261.00" x2="436.30" y2="288.00" stroke="#0a28ff" stroke-width="1.2" />
<rect x="385.90" y="281.80" width="5" height="3" fill="#0a28ff"/>
<rect x="427.20" y="281.80" width="5" height="3" fill="#0a28ff"/>
<g transform="translate(413.10,279.50)" fill="#000"><text x="-12.41" y="0" font-size="9.7" letter-spacing="1.1">2221</text></g>
<line x1="451.80" y1="349.00" x2="451.80" y2="358.50" stroke="#0a28ff" stroke-width="1.2" />
<line x1="451.80" y1="354.50" x2="597.80" y2="354.50" stroke="#0a28ff" stroke-width="1.2" />
<line x1="597.80" y1="349.00" x2="597.80" y2="358.50" stroke="#0a28ff" stroke-width="1.2" />
<rect x="455.90" y="353.00" width="5" height="3" fill="#0a28ff"/>
<rect x="588.10" y="353.00" width="5" height="3" fill="#0a28ff"/>
<g transform="translate(523.30,350.50)" fill="#000"><text x="-12.41" y="0" font-size="9.7" letter-spacing="1.1">5900</text></g>
<line x1="381.80" y1="380.20" x2="592.50" y2="380.20" stroke="#0a28ff" stroke-width="1.2" />
<rect x="386.00" y="378.70" width="5" height="3" fill="#0a28ff"/>
<rect x="451.90" y="378.70" width="5" height="3" fill="#0a28ff"/>
<rect x="465.80" y="378.70" width="5" height="3" fill="#0a28ff"/>
<rect x="583.00" y="378.70" width="5" height="3" fill="#0a28ff"/>
<g transform="translate(424.70,376.30)" fill="#000"><text x="-12.41" y="0" font-size="9.7" letter-spacing="1.1">3234</text></g>
<g transform="translate(525.40,376.30)" fill="#000"><text x="-12.41" y="0" font-size="9.7" letter-spacing="1.1">5269</text></g>
<line x1="461.40" y1="376.00" x2="461.40" y2="513.70" stroke="#0a28ff" stroke-width="1.2" />
<line x1="592.40" y1="376.00" x2="592.40" y2="467.50" stroke="#0a28ff" stroke-width="1.2" />
<line x1="592.40" y1="476.40" x2="592.40" y2="485.70" stroke="#0a28ff" stroke-width="1.2" />
<line x1="592.40" y1="491.70" x2="592.40" y2="494.50" stroke="#0a28ff" stroke-width="1.2" />
<line x1="592.40" y1="501.00" x2="592.40" y2="509.90" stroke="#0a28ff" stroke-width="1.2" />
<line x1="415.80" y1="465.30" x2="497.40" y2="465.30" stroke="#0a28ff" stroke-width="1.2" stroke-dasharray="9.2 5.9 2.9 6.1"/>
<line x1="497.00" y1="465.30" x2="524.80" y2="465.30" stroke="#0a28ff" stroke-width="1.2" />
<line x1="547.00" y1="465.30" x2="637.40" y2="465.30" stroke="#0a28ff" stroke-width="1.2" stroke-dasharray="9.2 5.9 2.9 6.1"/>
<line x1="520.60" y1="465.30" x2="520.60" y2="513.40" stroke="#0a28ff" stroke-width="1.2" />
<line x1="499.00" y1="513.40" x2="524.80" y2="513.40" stroke="#0a28ff" stroke-width="1.2" />
<rect x="519.20" y="469.90" width="2.8" height="5" fill="#0a28ff"/>
<rect x="519.20" y="504.10" width="2.8" height="5" fill="#0a28ff"/>
<g transform="translate(518.50,489.30) rotate(-90)" fill="#000"><text transform="scale(1,1.39)" x="-12.49" y="0" font-size="9" letter-spacing="1.65">1955</text></g>
<path d="M100.2 331.4H208.7 M100.2 371.2H208.7" stroke="#000" stroke-width="1.3" fill="none"/>
<line x1="204.00" y1="331.40" x2="204.00" y2="371.20" stroke="#000" stroke-width="2.0" />
<line x1="104.20" y1="331.40" x2="104.20" y2="371.20" stroke="#000" stroke-width="2.2" />
<path d="M100.2 331.4 Q97.3 331.7 97.1 334.8 V367.7 Q97.3 370.9 100.2 371.2 M97.1 334.8 Q86.9 351.3 97.1 367.7" stroke="#000" stroke-width="1.05" fill="none"/>
<path d="M208.7 331.4 Q210.4 331.8 210.4 334.6 V368 Q210.4 370.8 208.7 371.2" stroke="#000" stroke-width="0.9" fill="none"/>
<path d="M209.4 332 Q221 351.3 209.4 370.6" stroke="#000" stroke-width="1.1" fill="none"/>
<circle cx="177.60" cy="351.50" r="2.60" stroke="#000" stroke-width="1.3" fill="none" />
<line x1="118.40" y1="336.10" x2="122.00" y2="336.10" stroke="#2a1a08" stroke-width="1.0" />
<line x1="117.60" y1="336.10" x2="118.60" y2="336.10" stroke="#e09a40" stroke-width="1.0" />
<line x1="118.40" y1="339.00" x2="122.00" y2="339.00" stroke="#2a1a08" stroke-width="1.0" />
<line x1="117.60" y1="339.00" x2="118.60" y2="339.00" stroke="#e09a40" stroke-width="1.0" />
<line x1="118.40" y1="343.50" x2="122.00" y2="343.50" stroke="#2a1a08" stroke-width="1.0" />
<line x1="117.60" y1="343.50" x2="118.60" y2="343.50" stroke="#e09a40" stroke-width="1.0" />
<line x1="118.40" y1="346.30" x2="122.00" y2="346.30" stroke="#2a1a08" stroke-width="1.0" />
<line x1="117.60" y1="346.30" x2="118.60" y2="346.30" stroke="#e09a40" stroke-width="1.0" />
<line x1="150.40" y1="337.00" x2="153.20" y2="337.00" stroke="#3a2a10" stroke-width="1.0" />
<line x1="150.40" y1="340.00" x2="153.20" y2="340.00" stroke="#3a2a10" stroke-width="1.0" />
<line x1="150.40" y1="343.00" x2="153.20" y2="343.00" stroke="#3a2a10" stroke-width="1.0" />
<line x1="150.40" y1="346.00" x2="153.20" y2="346.00" stroke="#3a2a10" stroke-width="1.0" />
<line x1="150.40" y1="349.00" x2="153.20" y2="349.00" stroke="#3a2a10" stroke-width="1.0" />
<line x1="150.40" y1="352.00" x2="153.20" y2="352.00" stroke="#3a2a10" stroke-width="1.0" />
<line x1="83.00" y1="320.40" x2="124.90" y2="320.40" stroke="#0a28ff" stroke-width="1.2" />
<line x1="78.50" y1="320.00" x2="78.50" y2="389.60" stroke="#0a28ff" stroke-width="1.3" />
<line x1="104.30" y1="320.40" x2="104.30" y2="389.60" stroke="#0a28ff" stroke-width="1.2" />
<line x1="124.90" y1="320.40" x2="124.90" y2="351.40" stroke="#0a28ff" stroke-width="1.2" />
<line x1="155.30" y1="331.20" x2="155.30" y2="371.00" stroke="#0a28ff" stroke-width="1.2" />
<line x1="203.60" y1="371.00" x2="203.60" y2="389.30" stroke="#0a28ff" stroke-width="1.2" />
<line x1="83.00" y1="351.40" x2="126.50" y2="351.40" stroke="#0a28ff" stroke-width="1.2" />
<line x1="129.20" y1="351.40" x2="267.70" y2="351.40" stroke="#0a28ff" stroke-width="1.2" stroke-dasharray="2.9 5.8 9.2 6.2"/>
<line x1="78.50" y1="387.00" x2="203.60" y2="387.00" stroke="#0a28ff" stroke-width="1.2" />
<path d="M80.5 386.9l2.5 -1v2z M103.4 386.9l-2.5 -1v2z M105 386.9l2.5 -1v2z M202.8 386.9l-2.5 -1v2z" fill="#0a28ff"/>
<g transform="translate(92.00,385.00)" fill="#000"><text x="-6.78" y="0" font-size="6.5" letter-spacing="-0.3">1025</text></g>
<g transform="translate(157.20,385.00)" fill="#000"><text x="-6.78" y="0" font-size="6.5" letter-spacing="-0.3">4000</text></g>
<path d="M86.2 408.2 Q83.4 402 84.6 398 Q86.6 393.2 91.3 393.2 Q96.4 393.2 98.2 398 Q99.2 402 97 408.2" stroke="#111" stroke-width="0.95" fill="none"/>
<line x1="85.30" y1="408.60" x2="98.20" y2="408.60" stroke="#000" stroke-width="2.0" />
<circle cx="86.20" cy="408.30" r="1.30" stroke="#000" stroke-width="0" fill="#000" />
<circle cx="97.40" cy="408.30" r="1.30" stroke="#000" stroke-width="0" fill="#000" />
<path d="M91.2 391.4L93.6 394H88.8Z" fill="#000"/><path d="M99.6 396.2L98.8 399.4L97.6 396.4Z" fill="#000"/>
<line x1="80.80" y1="414.80" x2="80.80" y2="421.00" stroke="#000" stroke-width="2.2" />
<line x1="154.00" y1="414.80" x2="154.00" y2="421.00" stroke="#000" stroke-width="2.2" />
<line x1="227.60" y1="414.80" x2="227.60" y2="421.00" stroke="#000" stroke-width="2.2" />
<line x1="301.20" y1="414.80" x2="301.20" y2="421.00" stroke="#000" stroke-width="2.2" />
<line x1="375.00" y1="414.80" x2="375.00" y2="421.00" stroke="#000" stroke-width="2.2" />
<path d="M224.9 321.2H230.1L228.5 323.8H226.5Z" fill="#000"/>
<path d="M298.4 321.2H303.6L302.0 323.8H300.0Z" fill="#000"/>
<path d="M372.4 321.2H377.6L376.0 323.8H374.0Z" fill="#000"/>
<rect x="79" y="320.8" width="5.8" height="3.1" fill="#000"/>
<circle cx="301.10" cy="439.40" r="1.50" stroke="#000" stroke-width="0" fill="#000" />
<path d="M389.00 325.90L231.90 325.90L231.90 470.50L163.60 470.50" stroke="#000" stroke-width="1.9" fill="none" stroke-linejoin="round"/>
<path d="M388.00 328.60L236.60 328.60" stroke="#000" stroke-width="1.3" fill="none" stroke-linejoin="round"/>
<path d="M236.60 328.60L235.90 329.40L235.90 474.00" stroke="#000" stroke-width="1.9" fill="none" stroke-linejoin="round"/>
<path d="M235.90 474.00L163.60 474.00" stroke="#000" stroke-width="1.3" fill="none" stroke-linejoin="round"/>
<path d="M389.00 331.20L238.40 331.20L238.40 476.30L104.00 476.30L100.40 472.80" stroke="#000" stroke-width="1.1" fill="none" stroke-linejoin="round"/>
<path d="M388.00 333.90L242.60 333.90" stroke="#000" stroke-width="1.5" fill="none" stroke-linejoin="round"/>
<path d="M242.60 333.90L240.50 335.80L240.50 478.70" stroke="#000" stroke-width="1.1" fill="none" stroke-linejoin="round"/>
<path d="M240.50 478.70L102.40 478.70L98.60 475.00" stroke="#000" stroke-width="1.3" fill="none" stroke-linejoin="round"/>
<circle cx="240.00" cy="334.50" r="1.20" stroke="#000" stroke-width="0" fill="#000" />
<circle cx="240.90" cy="477.60" r="1.30" stroke="#000" stroke-width="0" fill="#000" />
<rect x="297.10" y="334.20" width="37.90" height="24.70" stroke="#000" stroke-width="0" fill="#000" />
<rect x="302.1" y="340.0" width="1" height="1" fill="#fff"/>
<rect x="302.1" y="348.9" width="1" height="1" fill="#fff"/>
<rect x="310.9" y="340.0" width="1" height="1" fill="#fff"/>
<rect x="310.9" y="348.9" width="1" height="1" fill="#fff"/>
<rect x="320.9" y="340.0" width="1" height="1" fill="#fff"/>
<rect x="320.9" y="348.9" width="1" height="1" fill="#fff"/>
<rect x="331.0" y="340.0" width="1" height="1" fill="#fff"/>
<rect x="331.0" y="348.9" width="1" height="1" fill="#fff"/>
<rect x="291.7" y="356.2" width="6" height="2.9" rx="1" fill="#000"/><rect x="292.5" y="330.6" width="6.5" height="3.8" rx="1" fill="#111"/>
<rect x="299" y="358" width="4.5" height="2" fill="#000"/><rect x="314.8" y="358" width="5" height="2" fill="#000"/><rect x="330.8" y="358" width="4.8" height="2" fill="#000"/>
<rect x="315.5" y="332.8" width="5" height="1.6" fill="#000"/><rect x="331.5" y="332.8" width="3.5" height="1.6" fill="#000"/>
<rect x="329.10" y="369.20" width="29.20" height="46.40" stroke="#000" stroke-width="0" fill="#000" />
<rect x="331.0" y="388.0" width="1" height="1" fill="#fff"/>
<rect x="331.0" y="397.9" width="1" height="1" fill="#fff"/>
<rect x="331.0" y="406.7" width="1" height="1" fill="#fff"/>
<rect x="339.9" y="377.9" width="1" height="1" fill="#fff"/>
<rect x="339.9" y="388.0" width="1" height="1" fill="#fff"/>
<rect x="339.9" y="397.9" width="1" height="1" fill="#fff"/>
<rect x="339.9" y="406.7" width="1" height="1" fill="#fff"/>
<rect x="349.9" y="377.9" width="1" height="1" fill="#fff"/>
<rect x="349.9" y="388.0" width="1" height="1" fill="#fff"/>
<rect x="349.9" y="397.9" width="1" height="1" fill="#fff"/>
<rect x="349.9" y="406.7" width="1" height="1" fill="#fff"/>
<rect x="355.6" y="369.6" width="2.7" height="5.4" fill="#fff"/><rect x="356.4" y="370.6" width="1.6" height="1.3" fill="#000"/><rect x="356.4" y="372.9" width="1.6" height="1.3" fill="#000"/>
<rect x="228.1" y="481.2" width="72.7" height="21.3" fill="#fff" stroke="none"/>
<line x1="227.60" y1="481.20" x2="301.20" y2="481.20" stroke="#000" stroke-width="2.0" />
<line x1="227.60" y1="502.50" x2="301.20" y2="502.50" stroke="#000" stroke-width="1.8" />
<path d="M228.7 481V503M233.60 481V503M237.54 481V503M241.48 481V503M245.42 481V503M249.36 481V503M253.30 481V503M257.24 481V503M261.18 481V503M265.12 481V503M269.06 481V503M273.00 481V503M276.94 481V503M280.88 481V503M284.82 481V503M288.76 481V503M292.70 481V503M296.64 481V503M300.58 481V503" stroke="#000" stroke-width="1.15" fill="none"/>
<circle cx="231.50" cy="503.20" r="1.30" stroke="#000" stroke-width="0" fill="#000" />
<circle cx="246.40" cy="503.20" r="1.30" stroke="#000" stroke-width="0" fill="#000" />
<circle cx="264.50" cy="503.20" r="1.30" stroke="#000" stroke-width="0" fill="#000" />
<circle cx="250.70" cy="503.40" r="0.90" stroke="#000" stroke-width="0" fill="#000" />
<rect x="85.30" y="437.20" width="19.30" height="37.10" stroke="#000" stroke-width="1.1" fill="none" />
<path d="M91.60 452V442.4L92.60 439.5 Q94.80 437.6 97.00 439.5L98.00 442.4V452 M91.60 442.4H98.00" stroke="#000" stroke-width="1.0" fill="none"/>
<path d="M93.60 462.4V467 M95.80 462.4V467" stroke="#000" stroke-width="0.8" fill="none"/>
<rect x="115.00" y="437.20" width="19.30" height="37.10" stroke="#000" stroke-width="1.1" fill="none" />
<path d="M121.30 452V442.4L122.30 439.5 Q124.50 437.6 126.70 439.5L127.70 442.4V452 M121.30 442.4H127.70" stroke="#000" stroke-width="1.0" fill="none"/>
<path d="M123.30 462.4V467 M125.50 462.4V467" stroke="#000" stroke-width="0.8" fill="none"/>
<rect x="144.30" y="437.20" width="19.30" height="37.10" stroke="#000" stroke-width="1.1" fill="none" />
<path d="M150.60 452V442.4L151.60 439.5 Q153.80 437.6 156.00 439.5L157.00 442.4V452 M150.60 442.4H157.00" stroke="#000" stroke-width="1.0" fill="none"/>
<path d="M152.60 462.4V467 M154.80 462.4V467" stroke="#000" stroke-width="0.8" fill="none"/>
<rect x="85.4" y="452.4" width="151.2" height="9.2" fill="none" stroke="#000" stroke-width="1.9"/>
<path d="M90.10 452V462.2M96.90 452V462.2M103.70 452V462.2M110.50 452V462.2M117.30 452V462.2M124.10 452V462.2M130.90 452V462.2M137.70 452V462.2M144.50 452V462.2M151.30 452V462.2M158.10 452V462.2M164.90 452V462.2M171.70 452V462.2M178.50 452V462.2M185.30 452V462.2M192.10 452V462.2M198.90 452V462.2M205.70 452V462.2M212.50 452V462.2M219.30 452V462.2M226.10 452V462.2" stroke="#000" stroke-width="1.6" fill="none"/>
<rect x="231.40" y="451.50" width="5.40" height="10.90" stroke="#000" stroke-width="0" fill="#000" />
<circle cx="238.80" cy="452.30" r="1.10" stroke="#000" stroke-width="0" fill="#000" />
<circle cx="238.80" cy="462.30" r="1.10" stroke="#000" stroke-width="0" fill="#000" />
<rect x="92.40" y="454.60" width="5.00" height="5.40" stroke="#000" stroke-width="0" fill="#000" />
<circle cx="95.10" cy="457.20" r="1.20" stroke="#000" stroke-width="0" fill="#fff" />
<rect x="122.10" y="454.60" width="5.00" height="5.40" stroke="#000" stroke-width="0" fill="#000" />
<circle cx="124.80" cy="457.20" r="1.20" stroke="#000" stroke-width="0" fill="#fff" />
<rect x="151.40" y="454.60" width="5.00" height="5.40" stroke="#000" stroke-width="0" fill="#000" />
<circle cx="154.10" cy="457.20" r="1.20" stroke="#000" stroke-width="0" fill="#fff" />
<circle cx="94.80" cy="499.50" r="9.50" stroke="#000" stroke-width="2.0" fill="#fff" />
<path d="M97.80 492.10 A8 8 0 0 1 93.80 507.40" stroke="#000" stroke-width="0.9" fill="none"/>
<path d="M93.80 475.5h2v3.4h2.2q1.3 0 1.3 1.3v1.6q0 1 -1 1.3q1 0.3 1 1.3v1.8q0 1.3 -1.3 1.3h-2.2v2.4h-2v-2.4h-2q-1.3 0 -1.3 -1.3v-1.8q0 -1 1 -1.3q-1 -0.3 -1 -1.3v-1.6q0 -1.3 1.3 -1.3h2z" fill="#000"/>
<rect x="97.20" y="480.1" width="1.1" height="1.1" fill="#fff"/><rect x="97.20" y="484.5" width="1.1" height="1.1" fill="#fff"/>
<path d="M93.20 498.2h3.6v1.2h-1.6v1.6l1.6 1v1.4h-3.6z" fill="#000"/>
<rect x="88.80" y="470.40" width="11.60" height="1.80" stroke="#000" stroke-width="0" fill="#000" />
<line x1="88.00" y1="471.30" x2="99.40" y2="471.30" stroke="#0a28ff" stroke-width="1.7" />
<line x1="94.80" y1="466.60" x2="94.80" y2="475.80" stroke="#0a28ff" stroke-width="1.7" />
<line x1="94.80" y1="489.50" x2="94.80" y2="553.80" stroke="#0a28ff" stroke-width="1.2" />
<line x1="82.20" y1="499.50" x2="90.80" y2="499.50" stroke="#0a28ff" stroke-width="1.2" />
<line x1="93.60" y1="499.50" x2="100.10" y2="499.50" stroke="#0a28ff" stroke-width="1.2" />
<line x1="105.40" y1="499.50" x2="107.00" y2="499.50" stroke="#0a28ff" stroke-width="1.2" />
<circle cx="124.50" cy="499.50" r="9.50" stroke="#000" stroke-width="2.0" fill="#fff" />
<path d="M127.50 492.10 A8 8 0 0 1 123.50 507.40" stroke="#000" stroke-width="0.9" fill="none"/>
<path d="M123.50 475.5h2v3.4h2.2q1.3 0 1.3 1.3v1.6q0 1 -1 1.3q1 0.3 1 1.3v1.8q0 1.3 -1.3 1.3h-2.2v2.4h-2v-2.4h-2q-1.3 0 -1.3 -1.3v-1.8q0 -1 1 -1.3q-1 -0.3 -1 -1.3v-1.6q0 -1.3 1.3 -1.3h2z" fill="#000"/>
<rect x="126.90" y="480.1" width="1.1" height="1.1" fill="#fff"/><rect x="126.90" y="484.5" width="1.1" height="1.1" fill="#fff"/>
<path d="M122.90 498.2h3.6v1.2h-1.6v1.6l1.6 1v1.4h-3.6z" fill="#000"/>
<rect x="118.50" y="470.40" width="11.60" height="1.80" stroke="#000" stroke-width="0" fill="#000" />
<line x1="117.70" y1="471.30" x2="129.10" y2="471.30" stroke="#0a28ff" stroke-width="1.7" />
<line x1="124.50" y1="466.60" x2="124.50" y2="475.80" stroke="#0a28ff" stroke-width="1.7" />
<line x1="124.50" y1="489.50" x2="124.50" y2="553.80" stroke="#0a28ff" stroke-width="1.2" />
<line x1="111.90" y1="499.50" x2="120.50" y2="499.50" stroke="#0a28ff" stroke-width="1.2" />
<line x1="123.30" y1="499.50" x2="129.80" y2="499.50" stroke="#0a28ff" stroke-width="1.2" />
<line x1="135.10" y1="499.50" x2="136.70" y2="499.50" stroke="#0a28ff" stroke-width="1.2" />
<circle cx="153.80" cy="499.50" r="9.50" stroke="#000" stroke-width="2.0" fill="#fff" />
<path d="M156.80 492.10 A8 8 0 0 1 152.80 507.40" stroke="#000" stroke-width="0.9" fill="none"/>
<path d="M152.80 475.5h2v3.4h2.2q1.3 0 1.3 1.3v1.6q0 1 -1 1.3q1 0.3 1 1.3v1.8q0 1.3 -1.3 1.3h-2.2v2.4h-2v-2.4h-2q-1.3 0 -1.3 -1.3v-1.8q0 -1 1 -1.3q-1 -0.3 -1 -1.3v-1.6q0 -1.3 1.3 -1.3h2z" fill="#000"/>
<rect x="156.20" y="480.1" width="1.1" height="1.1" fill="#fff"/><rect x="156.20" y="484.5" width="1.1" height="1.1" fill="#fff"/>
<path d="M152.20 498.2h3.6v1.2h-1.6v1.6l1.6 1v1.4h-3.6z" fill="#000"/>
<rect x="147.80" y="470.40" width="11.60" height="1.80" stroke="#000" stroke-width="0" fill="#000" />
<line x1="147.00" y1="471.30" x2="158.40" y2="471.30" stroke="#0a28ff" stroke-width="1.7" />
<line x1="153.80" y1="466.60" x2="153.80" y2="475.80" stroke="#0a28ff" stroke-width="1.7" />
<line x1="153.80" y1="489.50" x2="153.80" y2="553.80" stroke="#0a28ff" stroke-width="1.2" />
<line x1="141.20" y1="499.50" x2="149.80" y2="499.50" stroke="#0a28ff" stroke-width="1.2" />
<line x1="152.60" y1="499.50" x2="159.10" y2="499.50" stroke="#0a28ff" stroke-width="1.2" />
<line x1="164.40" y1="499.50" x2="166.00" y2="499.50" stroke="#0a28ff" stroke-width="1.2" />
<line x1="63.20" y1="471.00" x2="94.00" y2="471.00" stroke="#0a28ff" stroke-width="1.2" />
<line x1="63.20" y1="486.30" x2="91.50" y2="486.30" stroke="#0a28ff" stroke-width="1.2" />
<line x1="65.70" y1="471.00" x2="65.70" y2="486.30" stroke="#0a28ff" stroke-width="1.2" />
<line x1="63.00" y1="499.40" x2="79.00" y2="499.40" stroke="#0a28ff" stroke-width="1.2" />
<line x1="63.00" y1="513.30" x2="79.00" y2="513.30" stroke="#0a28ff" stroke-width="1.2" />
<line x1="65.70" y1="493.00" x2="65.70" y2="533.00" stroke="#0a28ff" stroke-width="1.2" />
<path d="M65.7 472l-1 2.5h2z M65.7 485.3l-1 -2.5h2z M65.7 500.4l-1 2.5h2z M65.7 512.3l-1 -2.5h2z" fill="#0a28ff"/>
<g transform="translate(62.80,478.50) rotate(-90)" fill="#5a4020"><text x="-4.10" y="0" font-size="4.9" letter-spacing="0.1">111</text></g>
<g transform="translate(62.80,525.70) rotate(-90)" fill="#5a4020"><text x="-4.10" y="0" font-size="4.9" letter-spacing="0.1">111</text></g>
<line x1="78.70" y1="513.00" x2="78.70" y2="553.80" stroke="#0a28ff" stroke-width="1.2" />
<line x1="69.00" y1="551.50" x2="153.70" y2="551.50" stroke="#0a28ff" stroke-width="1.2" />
<rect x="71.60" y="550.2" width="4.4" height="2.6" fill="#0a28ff"/>
<rect x="97.60" y="550.2" width="4.4" height="2.6" fill="#0a28ff"/>
<rect x="118.00" y="550.2" width="4.4" height="2.6" fill="#0a28ff"/>
<rect x="127.10" y="550.2" width="4.4" height="2.6" fill="#0a28ff"/>
<rect x="147.00" y="550.2" width="4.4" height="2.6" fill="#0a28ff"/>
<g transform="translate(88.00,549.20)" fill="#000"><text x="-6.67" y="0" font-size="8">650</text></g>
<g transform="translate(110.50,549.20)" fill="#000"><text x="-8.90" y="0" font-size="8">1189</text></g>
<g transform="translate(141.60,549.20)" fill="#000"><text x="-8.90" y="0" font-size="8">1187</text></g>
<rect x="403.60" y="588.50" width="11.90" height="11.50" stroke="#0a28ff" stroke-width="1.25" fill="none" />
<rect x="408.6" y="594.6" width="3" height="2" rx="1" fill="#000"/>
</svg>
</body></html>
